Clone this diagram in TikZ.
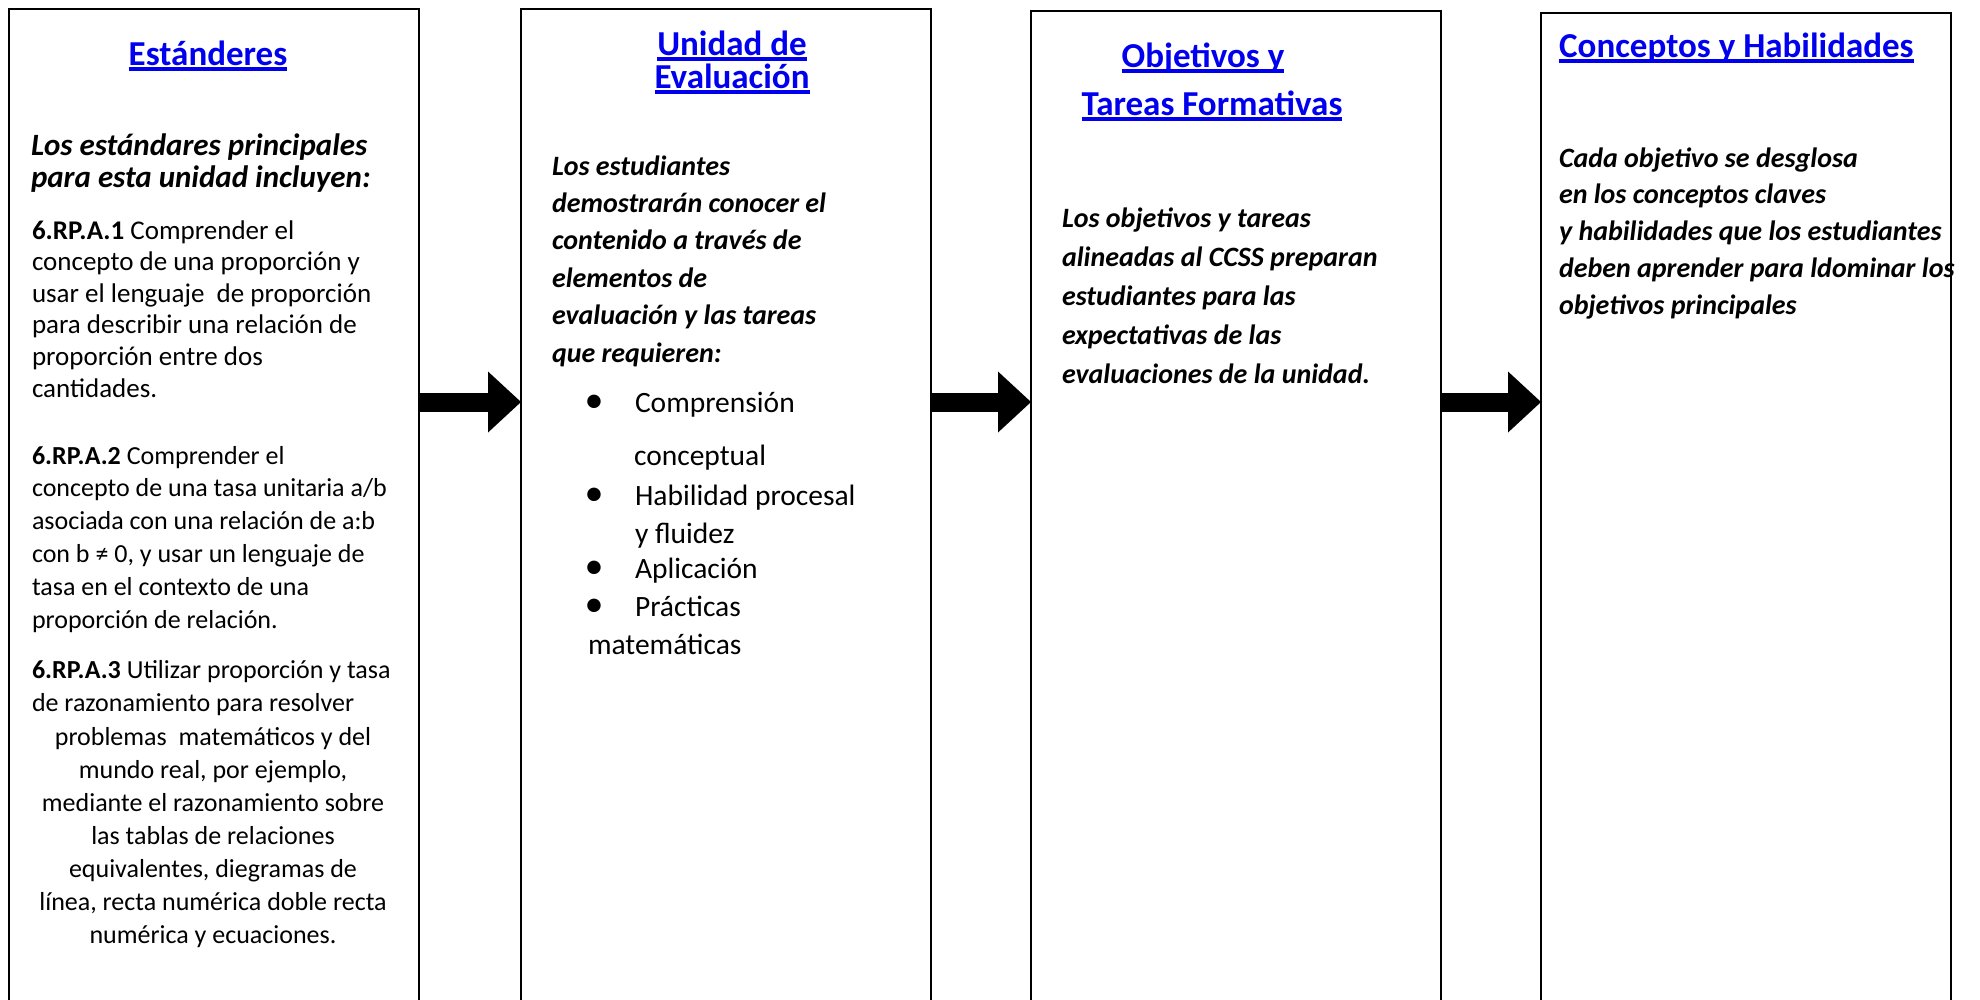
\documentclass[tikz,border=0pt]{standalone}
\usepackage{fontspec}
\setmainfont{Carlito}
\usetikzlibrary{arrows.meta}
\definecolor{ttlblue}{RGB}{0,0,238}
\newcommand\myul[1]{\setbox0\hbox{#1}\rlap{\rule[-0.16em]{\wd0}{0.1em}}\box0}
\newcommand\fsz[2]{\fontsize{#1pt}{#2pt}\selectfont}
\begin{document}
\begin{tikzpicture}[x=1pt,y=-1pt,
  box/.style={draw=black, line width=2.2pt, minimum width=410pt, minimum height=1000pt, anchor=north west, inner sep=0pt, outer sep=0pt},
  ttl/.style={font=\bfseries\fsz{35}{33}, text=ttlblue, inner sep=0pt, anchor=base},
  txt/.style={inner sep=0pt, outer sep=0pt, anchor=base west},
  ctxt/.style={inner sep=0pt, outer sep=0pt, anchor=base},
  bigarrow/.style={line width=19pt, -{Triangle[length=33pt,width=61pt,line width=0pt]}}
]
\useasboundingbox (0,0) rectangle (1980,999);
\fill[white] (0,0) rectangle (1980,999);

% boxes
\node[box] (b1) at (9,9) {};
\node[box] (b2) at (521,9) {};
\node[box] (b3) at (1031,11) {};
\node[box] (b4) at (1541,13) {};

% arrows
\coordinate (ay) at (0,402);
\draw[bigarrow] (b1.east |- ay) -- (b2.west |- ay);
\draw[bigarrow] (b2.east |- ay) -- (b3.west |- ay);
\draw[bigarrow] (b3.east |- ay) -- (b4.west |- ay);

% titles
\node[ttl] (t1) at (208,65) {\myul{Estánderes}};
\node[ttl] (t2a) at (732,55) {\myul{Unidad de}};
\node[ttl] (t2b) at (732,88) {\myul{Evaluación}};
\node[ttl] (t3a) at (1203,67) {\myul{Objetivos y}};
\node[ttl] (t3b) at (1212,115) {\myul{Tareas Formativas}};
\node[ttl, anchor=base west] (t4) at (1559,57) {\myul{Conceptos y Habilidades}};

% box 1
\node[txt] (h1) at (31,155) {\parbox[t]{420pt}{\fsz{31}{32}\bfseries\itshape Los estándares principales\\para esta unidad incluyen:}};
\node[txt] (p1) at (32,239) {\parbox[t]{420pt}{\fsz{27}{31.6}\textbf{6.RP.A.1} Comprender el\\concepto de una proporción y\\usar el lenguaje\ \ de proporción\\para describir una relación de\\proporción entre dos\\cantidades.}};
\node[txt] (p2) at (32,464) {\parbox[t]{420pt}{\fsz{26}{32.8}\textbf{6.RP.A.2} Comprender el\\concepto de una tasa unitaria a/b\\asociada con una relación de a:b\\con b ≠ 0, y usar un lenguaje de\\tasa en el contexto de una\\proporción de relación.}};
\node[txt] (p3) at (32,678) {\parbox[t]{420pt}{\fsz{26}{33}\textbf{6.RP.A.3} Utilizar proporción y tasa\\de razonamiento para resolver}};
\node[ctxt] (p4) at (213,745) {\parbox[t]{400pt}{\centering\fsz{26}{33}problemas\ \ matemáticos y del\\mundo real, por ejemplo,\\mediante el razonamiento sobre\\las tablas de relaciones\\equivalentes, diegramas de\\línea, recta numérica doble recta\\numérica y ecuaciones.}};

% box 2
\node[txt] (p5) at (552,175) {\parbox[t]{400pt}{\fsz{28}{37.4}\bfseries\itshape Los estudiantes\\demostrarán conocer el\\contenido a través de\\elementos de\\evaluación y las tareas\\que requieren:}};
\tikzset{btxt/.style={txt, font=\fsz{29.5}{30}}, bdot/.style={ctxt, font=\fsz{38}{38}}}
\node[bdot] (d1) at (594,412) {•};
\node[btxt] (u1) at (635,412) {Comprensión};
\node[btxt] (u2) at (634,465) {conceptual};
\node[bdot] (d2) at (594,505) {•};
\node[btxt] (u3) at (635,505) {Habilidad procesal};
\node[btxt] (u4) at (635,543) {y fluidez};
\node[bdot] (d3) at (594,578) {•};
\node[btxt] (u5) at (635,578) {Aplicación};
\node[bdot] (d4) at (594,616) {•};
\node[btxt] (u6) at (635,616) {Prácticas};
\node[btxt] (u7) at (588,654) {matemáticas};

% box 3
\node[txt] (p6) at (1062,227) {\parbox[t]{400pt}{\fsz{28}{39.2}\bfseries\itshape Los objetivos y tareas\\alineadas al CCSS preparan\\estudiantes para las\\expectativas de las\\evaluaciones de la unidad.}};

% box 4
\node[txt] (p7) at (1559,167) {\parbox[t]{420pt}{\fsz{28}{36.9}\bfseries\itshape Cada objetivo se desglosa\\en los conceptos claves\\y habilidades que los estudiantes\\deben aprender para ldominar los\\objetivos principales}};
\end{tikzpicture}
\end{document}
